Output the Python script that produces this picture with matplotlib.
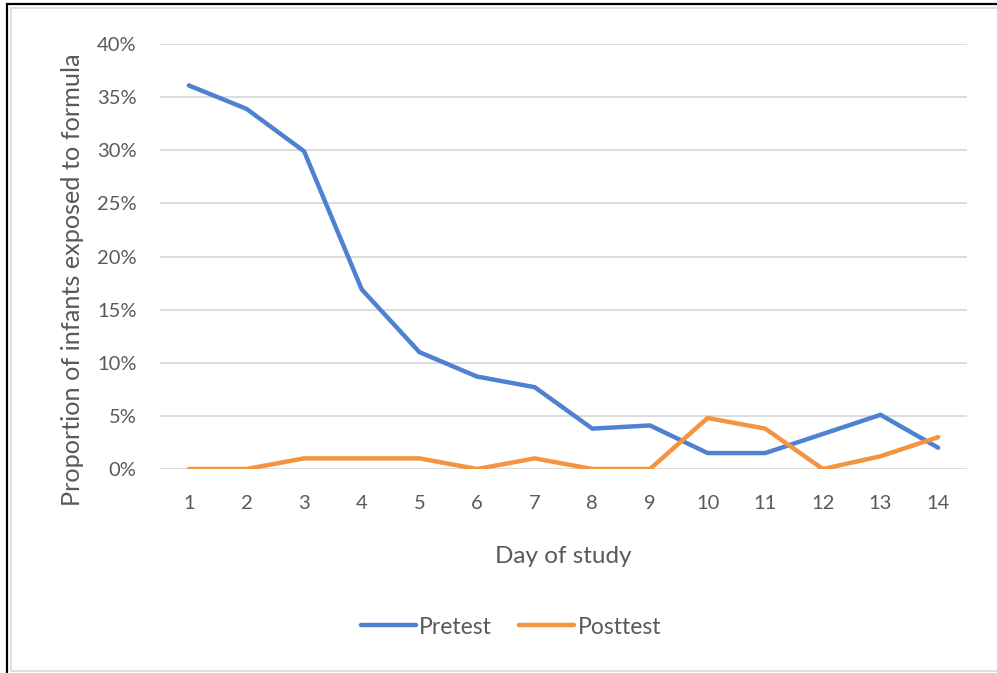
import matplotlib.pyplot as plt
from matplotlib.patches import Rectangle
from matplotlib.ticker import FuncFormatter

days = list(range(1, 15))
pretest = [36.1, 33.9, 29.9, 16.9, 11.0, 8.7, 7.7, 3.8, 4.1, 1.5, 1.5, 3.3, 5.1, 2.0]
posttest = [0.0, 0.0, 1.0, 1.0, 1.0, 0.0, 1.0, 0.0, 0.0, 4.8, 3.8, 0.0, 1.2, 3.0]

plt.rcParams['font.family'] = ['Lato', 'DejaVu Sans']
text_col = '#595959'

W, H = 997, 673
fig = plt.figure(figsize=(W / 100, H / 100), dpi=100)

# outer frame (black) and inner frame (light gray)
fig.patches.append(Rectangle((7 / W, -0.2), 1.2, 1.2 - 4 / H, transform=fig.transFigure,
                             fill=False, edgecolor='black', linewidth=1.6, zorder=0))
fig.patches.append(Rectangle((11 / W, 2 / H), 1.2, 1 - 10 / H, transform=fig.transFigure,
                             fill=False, edgecolor='#d9d9d9', linewidth=1.2, zorder=0))

ax = fig.add_axes([160 / W, 1 - 469 / H, (967 - 160) / W, (469 - 44) / H])
ax.plot(days, pretest, color='#4E82D0', linewidth=3.2, label='Pretest',
        solid_capstyle='round', solid_joinstyle='miter')
ax.plot(days, posttest, color='#F39440', linewidth=3.2, label='Posttest',
        solid_capstyle='round', solid_joinstyle='miter')

ax.set_xlim(0.5, 14.5)
ax.set_ylim(0, 40)
ax.set_yticks(range(0, 41, 5))
ax.yaxis.set_major_formatter(FuncFormatter(lambda v, p: '%d%%' % v))
ax.set_xticks(days)
ax.grid(axis='y', color='#d9d9d9', linewidth=1.3)
ax.set_axisbelow(True)
for s in ax.spines.values():
    s.set_visible(False)
ax.tick_params(length=0, labelsize=14.5, colors=text_col)
ax.tick_params(axis='y', pad=17)
ax.tick_params(axis='x', pad=19)

ax.set_xlabel('Day of study', fontsize=17.5, color=text_col, labelpad=24)
ax.set_ylabel('Proportion of infants exposed to formula', fontsize=18.2, color=text_col,
              labelpad=9, y=0.445)

leg = fig.legend(loc='center', bbox_to_anchor=(511 / W, 1 - 627 / H), ncol=2, frameon=False,
                 fontsize=16.5, handlelength=2.4, handletextpad=0.15, columnspacing=1.2)
for t in leg.get_texts():
    t.set_color(text_col)

fig.savefig('out.png', dpi=100)
